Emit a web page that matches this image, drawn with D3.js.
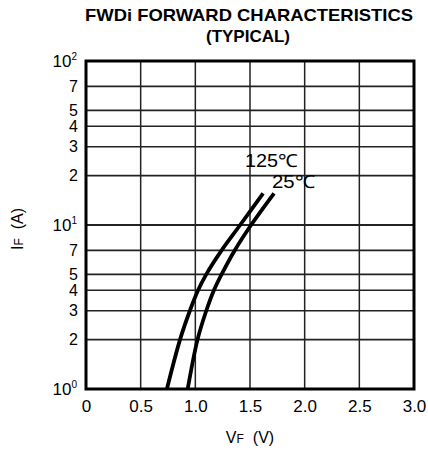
<!DOCTYPE html>
<html><head><meta charset="utf-8">
<script src="https://cdn.jsdelivr.net/npm/d3@7"></script>
<style>
body{margin:0;background:#fff;}
svg{display:block;font-family:"Liberation Sans",Arial,sans-serif;}
</style></head>
<body><svg id="c" width="428" height="455"></svg>
<script>
const currents = [1, 2, 3, 4, 5, 7, 10, 15.6];
const vf125 = [0.74, 0.86, 0.95, 1.025, 1.10, 1.24, 1.41, 1.62];
const vf25  = [0.93, 1.02, 1.10, 1.17, 1.24, 1.36, 1.51, 1.72];
const seriesLabels = ["125℃", "25℃"];
const xTicks = [0, 0.5, 1.0, 1.5, 2.0, 2.5, 3.0];
const yTickVals = [1, 2, 3, 4, 5, 7, 10, 20, 30, 40, 50, 70, 100];
const yGridVals = [2, 3, 4, 5, 7, 10, 20, 30, 40, 50, 70];

const svg = d3.select("#c");
const L = 86, R = 414, T = 61, B = 389;
const x = d3.scaleLinear().domain([0, 3]).range([L, R]);
const y = d3.scaleLog().domain([1, 100]).range([B, T]);

// title
svg.append("text").attr("x", 249).attr("y", 21).attr("text-anchor", "middle")
  .attr("font-weight", "bold").attr("font-size", 17).attr("textLength", 328)
  .attr("lengthAdjust", "spacingAndGlyphs").text("FWDi FORWARD CHARACTERISTICS");
svg.append("text").attr("x", 248).attr("y", 42).attr("text-anchor", "middle")
  .attr("font-weight", "bold").attr("font-size", 17).text("(TYPICAL)");

// grid
const g = svg.append("g");
g.selectAll("line.gx").data(xTicks.slice(1, -1)).enter().append("line")
  .attr("x1", d => x(d)).attr("x2", d => x(d)).attr("y1", T).attr("y2", B)
  .attr("stroke", "#222").attr("stroke-width", 1.5);
g.selectAll("line.gy").data(yGridVals).enter().append("line")
  .attr("y1", d => y(d)).attr("y2", d => y(d)).attr("x1", L).attr("x2", R)
  .attr("stroke", "#222").attr("stroke-width", d => d === 10 ? 2.2 : 1.6);

// curves
const line = d3.line().x(d => x(d[0])).y(d => y(d[1])).curve(d3.curveCatmullRom.alpha(0.5));
[vf125, vf25].forEach(vs => {
  svg.append("path").datum(vs.map((v, i) => [v, currents[i]]))
    .attr("d", line).attr("fill", "none").attr("stroke", "#000").attr("stroke-width", 3.8);
});

// frame
svg.append("rect").attr("x", L).attr("y", T).attr("width", R - L).attr("height", B - T)
  .attr("fill", "none").attr("stroke", "#000").attr("stroke-width", 3);

// x axis labels
const xa = svg.append("g").attr("transform", `translate(0,${B})`)
  .call(d3.axisBottom(x).tickValues(xTicks).tickSize(0).tickPadding(11)
    .tickFormat((d, i) => i === 0 ? "0" : d3.format(".1f")(d)));
xa.select(".domain").remove();
xa.selectAll("text").attr("font-size", 17).attr("font-family", "Liberation Sans, Arial, sans-serif").attr("fill", "#000");

// y axis labels
const ya = svg.append("g").attr("transform", `translate(${L},0)`)
  .call(d3.axisLeft(y).tickValues(yTickVals).tickSize(0).tickPadding(8)
    .tickFormat(d => {
      const e = Math.log10(d);
      return Number.isInteger(e) ? "" : String(Math.round(d / Math.pow(10, Math.floor(e))));
    }));
ya.select(".domain").remove();
ya.selectAll("text").attr("font-size", 16).attr("font-family", "Liberation Sans, Arial, sans-serif").attr("fill", "#000");
ya.selectAll(".tick").each(function(d) {
  const e = Math.log10(d);
  if (Number.isInteger(e)) {
    const t = d3.select(this).select("text");
    t.attr("x", -9).attr("font-size", 17);
    t.append("tspan").text("10");
    t.append("tspan").attr("dy", -7).attr("font-size", 10).text(String(e));
  }
});

// series labels
svg.append("text").attr("x", 245).attr("y", 167).attr("font-size", 18)
  .attr("textLength", 53).attr("lengthAdjust", "spacingAndGlyphs").text(seriesLabels[0]);
svg.append("text").attr("x", 272).attr("y", 188).attr("font-size", 18)
  .attr("textLength", 43).attr("lengthAdjust", "spacingAndGlyphs").text(seriesLabels[1]);

// axis titles
const xt = svg.append("text").attr("x", 250).attr("y", 443).attr("text-anchor", "middle").attr("font-size", 16);
xt.append("tspan").text("V");
xt.append("tspan").attr("font-size", 12).text("F");
xt.append("tspan").attr("dx", 9).text("(V)");
const yt = svg.append("text").attr("transform", "translate(23,229) rotate(-90)").attr("text-anchor", "middle").attr("font-size", 16);
yt.append("tspan").text("I");
yt.append("tspan").attr("font-size", 12).text("F");
yt.append("tspan").attr("dx", 9).text("(A)");
</script></body></html>
